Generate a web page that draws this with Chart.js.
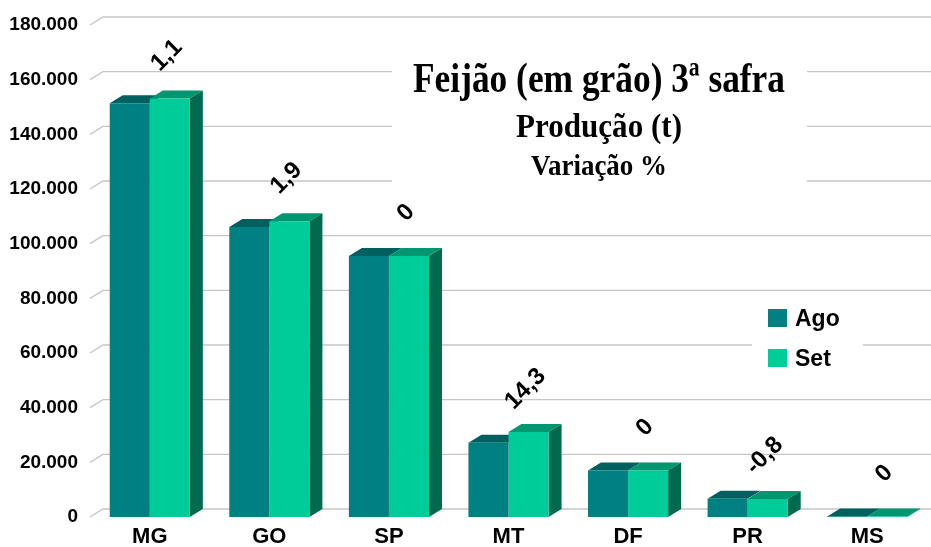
<!DOCTYPE html>
<html>
<head>
<meta charset="utf-8">
<script src="https://cdn.jsdelivr.net/npm/chart.js@4"></script>
<style>
  body { margin: 0; background: #fff; }
  #wrap { width: 931px; height: 547px; }
</style>
</head>
<body>
<div id="wrap"><canvas id="chart" width="931" height="547"></canvas></div>
<script>
// Data
const categories = ['MG', 'GO', 'SP', 'MT', 'DF', 'PR', 'MS'];
const seriesNames = ['Ago', 'Set'];
const agoValues = [151400, 106100, 95500, 27200, 17000, 6650, 150];
const setValues = [153100, 108200, 95500, 31100, 17000, 6600, 150];
const variationLabels = ['1,1', '1,9', '0', '14,3', '0', '-0,8', '0'];
const titleLines = ['Feijão (em grão) 3ª safra', 'Produção (t)', 'Variação %'];
const yMax = 180000;
const yStep = 20000;

// colours
const frontColors = ['#008080', '#00CC99'];
const topColors = ['#005F5F', '#009670'];
const sideColor = '#006A4E';
const gridColor = '#C6C6C6';

// depth of the fake 3D projection
const DX = 13, DY = -8;

Chart.defaults.font.family = '"Liberation Sans", Arial, sans-serif';
Chart.defaults.color = '#000';

function formatThousands(v) {
    return String(v).replace(/\B(?=(\d{3})+(?!\d))/g, '.');
}

function drawTitleLine(ctx, text, size, cx, baseline, targetWidth) {
    ctx.font = 'bold ' + size + 'px "Liberation Serif", "Times New Roman", serif';
    const w = ctx.measureText(text).width;
    const sx = Math.min(1, targetWidth / w);
    ctx.save();
    ctx.translate(cx, baseline);
    ctx.scale(sx, 1);
    ctx.textAlign = 'center';
    ctx.textBaseline = 'alphabetic';
    ctx.fillStyle = '#000';
    ctx.fillText(text, 0, 0);
    ctx.restore();
}

const depth3d = {
    id: 'depth3d',
    beforeDatasetsDraw(chart) {
        const { ctx, chartArea, scales } = chart;
        const y = scales.y;
        ctx.save();

        // back wall gridlines + diagonal ticks
        ctx.strokeStyle = gridColor;
        ctx.lineWidth = 1.3;
        y.ticks.forEach(t => {
            const py = y.getPixelForValue(t.value);
            ctx.beginPath();
            ctx.moveTo(chartArea.left, py);
            ctx.lineTo(chartArea.left + DX, py + DY);
            ctx.lineTo(chartArea.right + DX, py + DY);
            ctx.stroke();
        });

        // title box
        ctx.fillStyle = '#fff';
        ctx.fillRect(392, 28, 415, 192);
        drawTitleLine(ctx, titleLines[0], 43, 599, 92, 372);
        drawTitleLine(ctx, titleLines[1], 33, 599, 137, 166);
        drawTitleLine(ctx, titleLines[2], 29, 599, 175, 136);

        // legend box
        ctx.fillStyle = '#fff';
        ctx.fillRect(752, 296, 111, 86);
        ctx.font = 'bold 23px "Liberation Sans", Arial, sans-serif';
        ctx.textBaseline = 'alphabetic';
        ctx.textAlign = 'left';
        seriesNames.forEach((name, i) => {
            const ly = 309 + i * 40;
            ctx.fillStyle = frontColors[i];
            ctx.fillRect(768, ly, 19, 18);
            ctx.fillStyle = '#000';
            ctx.fillText(name, 795, ly + 17);
        });

        // top and side faces of the bars
        chart.data.datasets.forEach((ds, di) => {
            const meta = chart.getDatasetMeta(di);
            meta.data.forEach(bar => {
                const p = bar.getProps(['x', 'y', 'base', 'width'], true);
                const l = p.x - p.width / 2, r = p.x + p.width / 2;
                ctx.fillStyle = topColors[di];
                ctx.beginPath();
                ctx.moveTo(l, p.y);
                ctx.lineTo(r, p.y);
                ctx.lineTo(r + DX, p.y + DY);
                ctx.lineTo(l + DX, p.y + DY);
                ctx.closePath();
                ctx.fill();
                if (di === chart.data.datasets.length - 1) {
                    ctx.fillStyle = sideColor;
                    ctx.beginPath();
                    ctx.moveTo(r, p.y);
                    ctx.lineTo(r + DX, p.y + DY);
                    ctx.lineTo(r + DX, p.base + DY);
                    ctx.lineTo(r, p.base);
                    ctx.closePath();
                    ctx.fill();
                }
            });
        });
        ctx.restore();
    },
    afterDatasetsDraw(chart) {
        const { ctx, scales } = chart;
        const meta = chart.getDatasetMeta(1);
        ctx.save();
        ctx.font = 'bold 24px "Liberation Sans", Arial, sans-serif';
        ctx.fillStyle = '#000';
        ctx.textAlign = 'center';
        ctx.textBaseline = 'middle';
        meta.data.forEach((bar, i) => {
            const cx = scales.x.getPixelForValue(i);
            const top = Math.min(bar.y, chart.getDatasetMeta(0).data[i].y);
            ctx.save();
            ctx.translate(cx + 17, top - 43);
            ctx.rotate(-Math.PI / 4);
            ctx.fillText(variationLabels[i], 0, 0);
            ctx.restore();
        });
        ctx.restore();
    }
};

new Chart(document.getElementById('chart'), {
    type: 'bar',
    data: {
        labels: categories,
        datasets: [
            { label: seriesNames[0], data: agoValues, backgroundColor: frontColors[0] },
            { label: seriesNames[1], data: setValues, backgroundColor: frontColors[1] }
        ]
    },
    options: {
        responsive: false,
        animation: false,
        layout: { padding: { top: 25, right: 4, bottom: 0, left: 0 } },
        datasets: {
            bar: { barPercentage: 1, categoryPercentage: 0.67, borderWidth: 0 }
        },
        plugins: {
            legend: { display: false },
            title: { display: false },
            tooltip: { enabled: false }
        },
        scales: {
            x: {
                grid: { display: false, drawTicks: false },
                border: { display: false },
                ticks: { font: { size: 22, weight: 'bold' }, padding: 7, maxRotation: 0 },
                afterFit(scale) { scale.height = 30; }
            },
            y: {
                min: 0,
                max: yMax,
                grid: { display: false, drawTicks: false },
                border: { display: false },
                ticks: {
                    stepSize: yStep,
                    padding: 12,
                    font: { size: 19, weight: 'bold' },
                    callback: v => formatThousands(v)
                },
                afterFit(scale) { scale.width = 90; }
            }
        }
    },
    plugins: [depth3d]
});
</script>
</body>
</html>
